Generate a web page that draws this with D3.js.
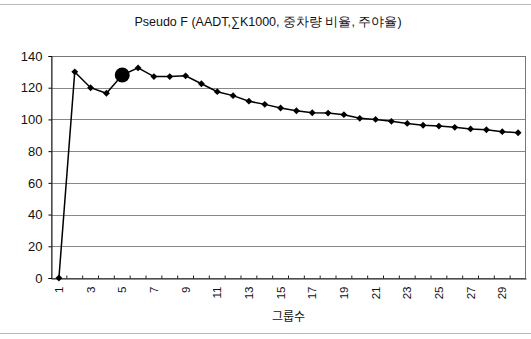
<!DOCTYPE html>
<html>
<head>
<meta charset="utf-8">
<script src="https://cdn.jsdelivr.net/npm/d3@7"></script>
<style>
  body { margin: 0; background: #fff; }
  text { font-family: "Liberation Sans", Arial, sans-serif; fill: #111; }
</style>
</head>
<body>
<div id="chart"></div>
<script>
// Number of groups (categories) and Pseudo F values
var groups = d3.range(1, 31);
var pseudoF = [0, 130, 120, 116.5, 128, 132.5, 127, 127, 127.5, 122.5,
               117.5, 115, 111.5, 109.5, 107.2, 105.5, 104.2, 104, 103, 100.7,
               100, 98.8, 97.5, 96.3, 95.8, 95, 94, 93.5, 92.3, 91.6];
var highlightGroup = 5;
var yTicks = [0, 20, 40, 60, 80, 100, 120, 140];
var titleText = "Pseudo F (AADT,\u2211K1000, 중차량 비율, 주야율)";
var xTitle = "그룹수";

var width = 531, height = 339;
var margin = {top: 56, right: 5, bottom: 61, left: 51};

var svg = d3.select("#chart").append("svg")
    .attr("width", width)
    .attr("height", height);

// scan border lines
svg.append("line").attr("x1", 0).attr("x2", width).attr("y1", 4.5).attr("y2", 4.5)
   .attr("stroke", "#bbb").attr("stroke-width", 1);
svg.append("line").attr("x1", 0).attr("x2", width).attr("y1", 333.5).attr("y2", 333.5)
   .attr("stroke", "#bbb").attr("stroke-width", 1);

var x = d3.scaleBand()
    .domain(groups)
    .range([margin.left, width - margin.right]);

var y = d3.scaleLinear()
    .domain([0, 140])
    .range([height - margin.bottom, margin.top]);

// gridlines
svg.append("g")
  .selectAll("line")
  .data(yTicks.filter(function(d) { return d > 0; }))
  .enter().append("line")
    .attr("x1", margin.left).attr("x2", width - margin.right)
    .attr("y1", function(d) { return Math.round(y(d)) + 0.5; })
    .attr("y2", function(d) { return Math.round(y(d)) + 0.5; })
    .attr("stroke", "#888").attr("stroke-width", 1);

// plot border
svg.append("rect")
    .attr("x", margin.left + 0.5).attr("y", Math.round(y(140)) + 0.5)
    .attr("width", width - margin.right - margin.left - 1)
    .attr("height", Math.round(y(0)) - Math.round(y(140)))
    .attr("fill", "none").attr("stroke", "#777");

// y axis
var yAxis = svg.append("g")
    .attr("transform", "translate(" + (margin.left + 0.5) + ",0)")
    .call(d3.axisLeft(y).tickValues(yTicks).tickSize(3).tickPadding(6));
yAxis.select(".domain").attr("stroke", "#222");
yAxis.selectAll("text").style("font-size", "13px");

// x axis
var xAxis = svg.append("g")
    .attr("transform", "translate(0," + (Math.round(y(0)) + 0.5) + ")")
    .call(d3.axisBottom(x).tickSize(0).tickPadding(8)
      .tickFormat(function(d) { return d % 2 === 1 ? d : ""; }));
xAxis.select(".domain").attr("stroke", "#222").attr("stroke-width", 1.2);
xAxis.selectAll("text")
    .style("font-size", "11.5px")
    .attr("transform", "rotate(-90)")
    .attr("text-anchor", "end")
    .attr("dy", "0.35em")
    .attr("x", -8).attr("y", 0);

// category separator ticks
svg.append("g")
  .selectAll("line")
  .data(groups.slice(1))
  .enter().append("line")
    .attr("x1", function(d) { return x(d); })
    .attr("x2", function(d) { return x(d); })
    .attr("y1", Math.round(y(0)) + 0.5)
    .attr("y2", Math.round(y(0)) - 2.5)
    .attr("stroke", "#222");

// line
var line = d3.line()
    .x(function(d, i) { return x(groups[i]) + x.bandwidth() / 2; })
    .y(function(d) { return y(d); });

svg.append("path")
    .datum(pseudoF)
    .attr("d", line)
    .attr("fill", "none")
    .attr("stroke", "#000")
    .attr("stroke-width", 1.5);

// diamond markers
svg.append("g")
  .selectAll("path")
  .data(pseudoF)
  .enter().append("path")
    .attr("d", d3.symbol().type(d3.symbolDiamond2).size(30))
    .attr("transform", function(d, i) {
      return "translate(" + (x(groups[i]) + x.bandwidth() / 2) + "," + y(d) + ")";
    })
    .attr("fill", "#000");

// highlighted point
svg.append("circle")
    .attr("cx", x(highlightGroup) + x.bandwidth() / 2)
    .attr("cy", y(pseudoF[highlightGroup - 1]))
    .attr("r", 7.5)
    .attr("fill", "#000");

// title
svg.append("text")
    .attr("x", 268).attr("y", 26)
    .attr("text-anchor", "middle")
    .style("font-size", "12.5px")
    .text(titleText);

// x axis title
svg.append("text")
    .attr("x", (margin.left + width - margin.right) / 2)
    .attr("y", 321)
    .attr("text-anchor", "middle")
    .style("font-size", "12px")
    .style("font-family", "'Noto Sans CJK KR', sans-serif")
    .text(xTitle);
</script>
</body>
</html>
